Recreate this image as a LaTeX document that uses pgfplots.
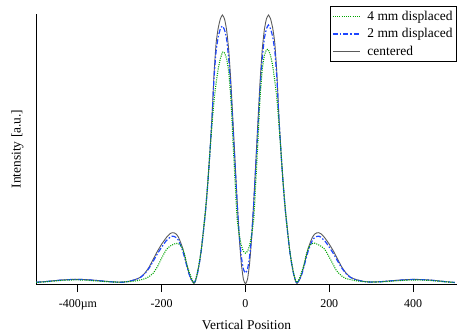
\documentclass[border=0pt]{standalone}
\usepackage{pgfplots}
\pgfplotsset{compat=1.18}
\usepackage{pgfplotstable}
\usepackage{fontspec}
\setmainfont{Liberation Serif}
\definecolor{cgreen}{RGB}{0,165,0}
\definecolor{cblue}{RGB}{30,70,255}
\definecolor{cgray}{RGB}{90,90,90}
\pgfplotsset{
  /pgfplots/legend image code/.code={\draw[#1] (0bp,0bp) -- (27bp,0bp);}
}

\pgfplotstableread{
x y
-500 1.8
-480 2.4
-460 3.2
-440 4.0
-420 4.5
-400 4.7
-380 4.4
-360 3.8
-340 3.0
-320 2.3
-300 1.8
-290 2.0
-280 2.6
-270 3.6
-260 5.0
-250 7.0
-240 11
-230 17
-220 25
-210 33
-200 40
-190 46
-185 48.5
-180 50.5
-175 51.5
-170 51.3
-165 50
-160 47
-155 42
-150 36
-145 28
-140 19
-135 11
-130 5
-126 2
-123 0.5
-120 2
-115 10
-110 21
-105 36
-100 55
-95 75
-90 101
-85 132
-80 167
-75 211
-70 242
-65 257
-60 266
-55 270
-50 266
-45 255
-40 235
-35 204
-30 165
-25 125
-20 85
-15 48
-10 21
-5 5
0 0
5 5
10 21
15 48
20 85
25 125
30 165
35 204
40 235
45 255
50 266
55 270
60 266
65 257
70 242
75 211
80 167
85 132
90 101
95 75
100 55
105 36
110 21
115 10
120 2
123 0.5
126 2
130 5
135 11
140 19
145 28
150 36
155 42
160 47
165 50
170 51.3
175 51.5
180 50.5
185 48.5
190 46
200 40
210 33
220 25
230 17
240 11
250 7
260 5
270 3.8
280 2.8
290 2.2
300 2.0
320 2.3
340 3.0
360 3.7
380 4.3
400 4.6
420 4.5
440 4.0
460 3.2
480 2.3
500 1.6
}\centered

\pgfplotstableread{
x y
-500 1.7
-480 2.3
-460 3.1
-440 3.9
-420 4.4
-400 4.6
-380 4.3
-360 3.7
-340 2.9
-320 2.2
-300 1.7
-290 1.9
-280 2.5
-270 3.5
-260 4.8
-250 6.8
-240 10.5
-230 16
-220 23
-210 30.5
-200 37
-190 43
-185 45
-180 47
-175 48
-170 47.7
-165 46.5
-160 44
-155 39
-150 33.5
-145 26
-140 18
-135 10.5
-130 5
-126 2.5
-123 1.5
-120 2.5
-115 10
-110 21
-105 35
-100 54
-95 75
-90 100
-85 131
-80 165
-75 207
-70 234
-65 248
-60 256
-55 259
-50 255
-45 246
-40 226
-35 196
-30 158
-25 120
-20 82
-15 50
-10 28
-5 15
0 11
5 15
10 28
15 50
20 82
25 120
30 158
35 196
40 226
45 246
50 256
55 260
60 256
65 248
70 234
75 207
80 165
85 131
90 100
95 75
100 54
105 35
110 21
115 10
120 2.5
123 1.5
126 2.5
130 5
135 10.5
140 18
145 26
150 33.5
155 39
160 44
165 46.5
170 47.7
175 48
180 47
185 45
190 43
200 37
210 30.5
220 23
230 16
240 10.5
250 6.8
260 4.8
270 3.6
280 2.7
290 2.1
300 1.9
320 2.2
340 2.9
360 3.6
380 4.2
400 4.5
420 4.4
440 3.9
460 3.1
480 2.2
500 1.5
}\twomm

\pgfplotstableread{
x y
-500 1.6
-480 2.1
-460 2.9
-440 3.6
-420 4.0
-400 4.1
-380 3.8
-360 3.2
-340 2.6
-320 2.1
-300 1.9
-280 2.3
-260 3.2
-250 4.2
-240 5.3
-230 7.5
-220 11
-215 14
-210 17.5
-200 26
-189 34.5
-180 38
-175 39.2
-170 40.2
-165 40.7
-160 40.5
-155 39
-150 35.5
-145 29
-140 20
-135 13
-130 7
-126 3
-123 1.5
-120 3
-115 11
-110 22
-105 36
-100 55
-95 76
-90 101
-85 131
-80 159
-75 184
-70 202
-65 216
-60 226
-55 232.5
-53 233
-50 232
-45 226
-40 213
-35 187
-33 172
-30 145
-25 105
-20 66
-15 50
-10 39
-5 33
0 31
5 33
10 39
15 50
20 66
25 105
30 145
33 172
35 188
40 215
45 229
50 235
53 235.5
55 235
60 229
65 219
70 204
75 186
80 160
85 131
90 101
95 76
100 55
105 36
110 22
115 11
120 3
123 1.5
126 3
130 7
135 13
140 20
145 29
150 36
155 39.5
160 40.7
165 41
170 40.2
175 39.2
180 38
189 35
200 27
210 19
215 15
220 12
230 8
240 5.5
250 4.5
260 3.5
280 2.5
300 2.0
320 2.1
340 2.6
360 3.2
380 3.7
400 4.0
420 4.0
440 3.6
460 2.9
480 2.1
500 1.5
}\fourmm

\begin{document}
\begin{tikzpicture}
\begin{axis}[
  name=ax,
  scale only axis,
  width=421bp, height=270bp,
  xmin=-500, xmax=505,
  ymin=0, ymax=271,
  axis x line=bottom,
  axis y line=left,
  axis line style={-, black, line width=0.8pt},
  ytick=\empty,
  xtick={-400,-200,0,200,400},
  xticklabels={-400µm,-200,0,200,400},
  tick align=outside,
  major tick length=8bp,
  xtick style={black, line width=0.8pt},
  ticklabel style={font=\fontsize{12}{14}\selectfont},
  xticklabel style={yshift=-4bp},
  xlabel={Vertical Position},
  ylabel={Intensity [a.u.]},
  label style={font=\fontsize{13.5}{16}\selectfont},
  xlabel style={yshift=-3.5bp},
  ylabel style={yshift=1bp},
  reverse legend,
  legend cell align=left,
  legend style={at={(1,1.03)}, anchor=north east, font=\fontsize{13.5}{18}\selectfont,
    draw=black, line width=0.8pt, inner xsep=2bp, inner ysep=3bp, row sep=2.5bp,
    /tikz/every odd column/.append style={column sep=5bp},
    /tikz/every even column/.append style={column sep=0bp}},
  every axis plot/.append style={smooth, tension=0.3},
]
\addplot[cgray, line width=0.9pt] table[x=x,y=y] {\centered};
\addlegendentry{centered}
\addplot[cblue, line width=1.2pt, dash pattern=on 5bp off 2bp on 1.5bp off 2bp] table[x=x,y=y] {\twomm};
\addlegendentry{2 mm displaced}
\addplot[cgreen, line width=1.1pt, dash pattern=on 1bp off 1.2bp] table[x=x,y=y] {\fourmm};
\addlegendentry{4 mm displaced}
\end{axis}
\pgfresetboundingbox
\path ([xshift=-36bp,yshift=-49bp]ax.south west) rectangle ([xshift=2bp,yshift=14bp]ax.north east);
\end{tikzpicture}
\end{document}
